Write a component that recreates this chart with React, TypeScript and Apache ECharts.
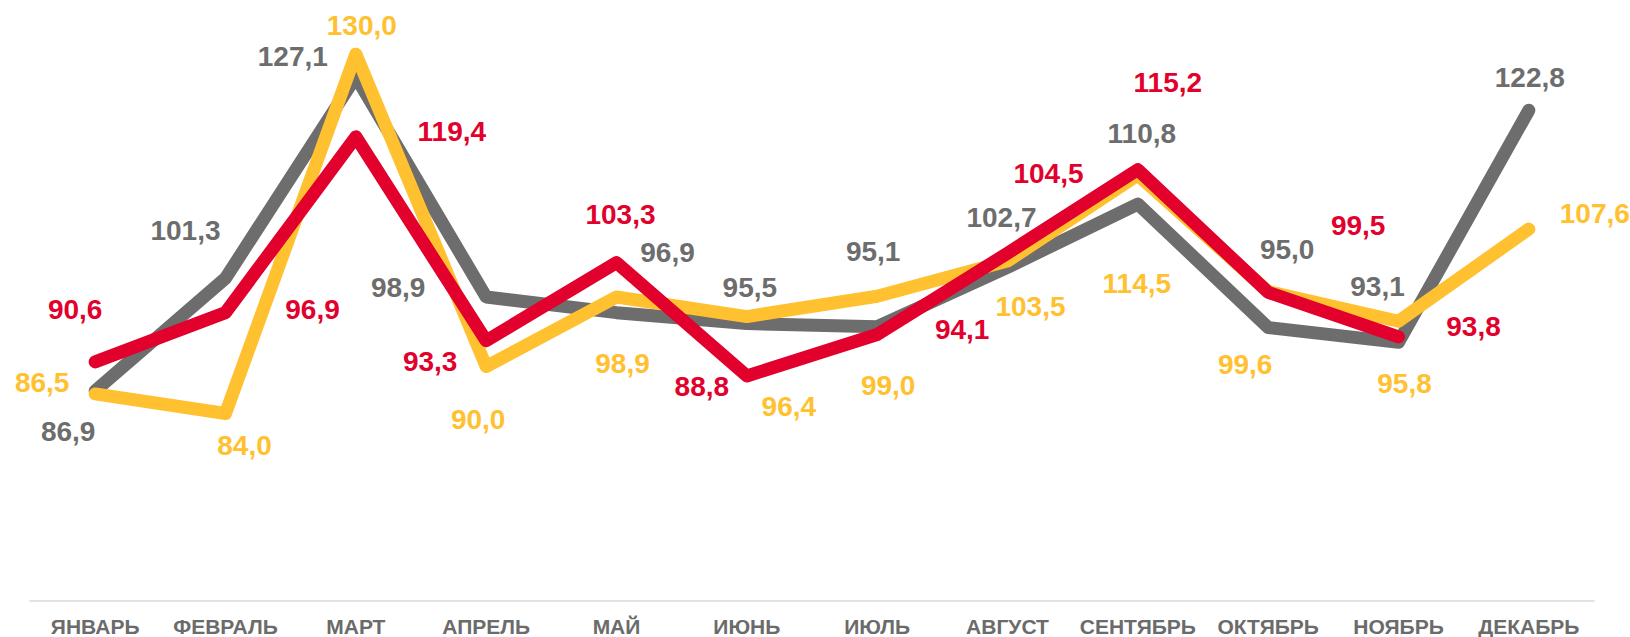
import React, { useEffect, useRef } from "react";
import * as echarts from "echarts";

const categories = ["ЯНВАРЬ", "ФЕВРАЛЬ", "МАРТ", "АПРЕЛЬ", "МАЙ", "ИЮНЬ", "ИЮЛЬ", "АВГУСТ", "СЕНТЯБРЬ", "ОКТЯБРЬ", "НОЯБРЬ", "ДЕКАБРЬ"];

const grayValues = [86.9, 101.3, 127.1, 98.9, 96.9, 95.5, 95.1, 102.7, 110.8, 95.0, 93.1, 122.8];
const yellowValues = [86.5, 84.0, 130.0, 90.0, 98.9, 96.4, 99.0, 103.5, 114.5, 99.6, 95.8, 107.6];
const redValues = [90.6, 96.9, 119.4, 93.3, 103.3, 88.8, 94.1, 104.5, 115.2, 99.5, 93.8];

// label offsets (layout only), in pixels relative to each point
const grayLabelOffsets = [[-27, 41], [-40, -48], [-63, -20], [-88, -10], [51, -60], [3, -36], [-4, -75], [-6, -50], [4, -71], [19, -78], [-21, -56], [1, -33]];
const yellowLabelOffsets = [[-53, -11], [19, 32], [6, -29], [-8, 53], [6, 66], [42, 90], [11, 89], [23, 45], [-1, 108], [-23, 73], [6, 62], [66, -16]];
const redLabelOffsets = [[-20, -52], [87, -3], [96, -5], [-56, 21], [4, -48], [-45, 11], [85, -5], [41, -80], [30, -87], [90, -67], [75, -10]];

const GRAY = "#6d6d6d";
const YELLOW = "#ffc12f";
const RED = "#e2002c";

function makeSeries(name: string, values: number[], offsets: number[][], color: string) {
  return {
    name,
    type: "line",
    data: values.map((v, i) => ({ value: v, label: { offset: offsets[i] } })),
    symbol: "circle",
    symbolSize: 2,
    showSymbol: true,
    itemStyle: { color: "transparent", borderWidth: 0 },
    lineStyle: { color, width: 13, cap: "round", join: "round" },
    label: {
      show: true,
      position: "inside",
      align: "center",
      verticalAlign: "middle",
      color,
      fontSize: 28,
      fontWeight: "bold",
      fontFamily: "'Liberation Sans', Arial, sans-serif",
      formatter: (p: any) => Number(p.value).toFixed(1).replace(".", ","),
    },
    emphasis: { disabled: true },
    z: 2,
  };
}

export default function App() {
  const ref = useRef<HTMLDivElement>(null);
  useEffect(() => {
    if (!ref.current) return;
    const chart = echarts.init(ref.current, undefined, { renderer: "svg" });
    chart.setOption({
      animation: false,
      backgroundColor: "#ffffff",
      grid: { left: 30, right: 36, top: 54, bottom: 36, containLabel: false },
      xAxis: {
        type: "category",
        data: categories,
        boundaryGap: true,
        axisLine: { show: true, lineStyle: { color: "#d9d9d9", width: 1.5 } },
        axisTick: { show: false },
        axisLabel: {
          color: "#6b6b6b",
          fontSize: 21,
          fontWeight: "bold",
          fontFamily: "'Liberation Sans', Arial, sans-serif",
          margin: 15,
          interval: 0,
        },
      },
      yAxis: {
        type: "value",
        min: 60,
        max: 130,
        show: false,
        splitLine: { show: false },
      },
      series: [
        makeSeries("gray", grayValues, grayLabelOffsets, GRAY),
        makeSeries("yellow", yellowValues, yellowLabelOffsets, YELLOW),
        makeSeries("red", redValues, redLabelOffsets, RED),
      ],
    });
    return () => chart.dispose();
  }, []);
  return (
    <div
      ref={ref}
      style={{ position: "fixed", left: 0, top: 0, width: 1630, height: 637, background: "#fff" }}
    />
  );
}
